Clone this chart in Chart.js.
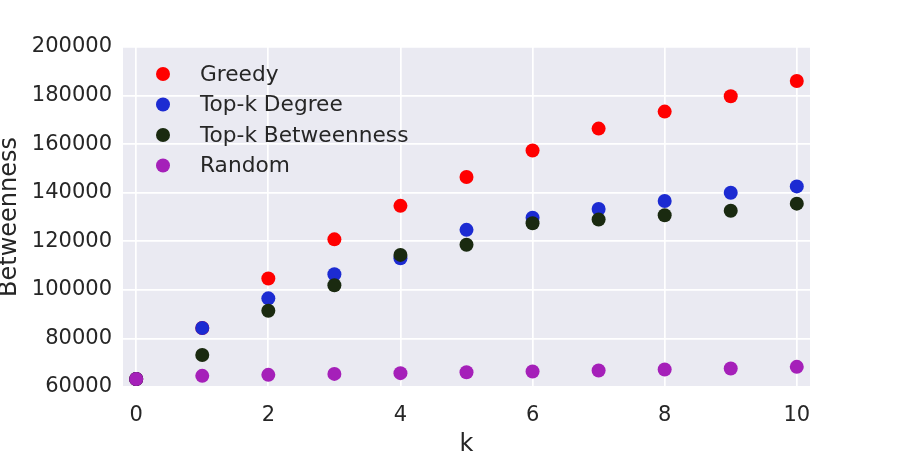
<!DOCTYPE html>
<html>
<head>
<meta charset="utf-8">
<script src="https://cdn.jsdelivr.net/npm/chart.js@4.4.1/dist/chart.umd.min.js"></script>
<style>
  html, body { margin: 0; padding: 0; background: #fff; }
  canvas { display: block; }
</style>
</head>
<body>
<canvas id="chart" width="900" height="469"></canvas>
<script>
// k values and betweenness readings per strategy
const kValues = [0, 1, 2, 3, 4, 5, 6, 7, 8, 9, 10];
const greedy = [63300, 84300, 104700, 120800, 134600, 146500, 157400, 166400, 173400, 179700, 186000];
const topDegree = [63300, 84300, 96500, 106400, 113000, 124700, 129700, 133300, 136600, 140000, 142600];
const topBetweenness = [63300, 73200, 91400, 101900, 114400, 118600, 127400, 129000, 130700, 132600, 135500];
const random = [63300, 64600, 65000, 65400, 65700, 66100, 66400, 66800, 67200, 67600, 68300];

const xTicks = [0, 2, 4, 6, 8, 10];
const yTicks = [60000, 80000, 100000, 120000, 140000, 160000, 180000, 200000];

const FONT = "'DejaVu Sans', sans-serif";
const TEXT = "#262626";

const toPoints = (ys) => ys.map((y, i) => ({ x: kValues[i], y: y }));

const plotBackground = {
  id: "plotBackground",
  beforeDraw(chart) {
    const { ctx, chartArea: a } = chart;
    ctx.save();
    ctx.fillStyle = "#EAEAF2";
    ctx.fillRect(a.left, a.top, a.right - a.left, a.bottom - a.top);
    ctx.restore();
  }
};

// matplotlib-style legend sitting inside the plot area
const insideLegend = {
  id: "insideLegend",
  afterDraw(chart) {
    const { ctx, chartArea: a } = chart;
    ctx.save();
    ctx.font = "21.7px " + FONT;
    ctx.textBaseline = "middle";
    ctx.textAlign = "left";
    chart.data.datasets.forEach((ds, i) => {
      const y = a.top + 27 + i * 30.5;
      ctx.beginPath();
      ctx.arc(a.left + 40, y, 7, 0, Math.PI * 2);
      ctx.fillStyle = ds.backgroundColor;
      ctx.fill();
      ctx.fillStyle = TEXT;
      ctx.fillText(ds.label, a.left + 77, y + 1);
    });
    ctx.restore();
  }
};

const series = [
  { label: "Greedy", data: greedy, color: "#ff0000", order: 4 },
  { label: "Top-k Degree", data: topDegree, color: "#1c2bd2", order: 3 },
  { label: "Top-k Betweenness", data: topBetweenness, color: "#1a2a10", order: 2 },
  { label: "Random", data: random, color: "#a520b9", order: 1 }
];

new Chart(document.getElementById("chart"), {
  type: "scatter",
  data: {
    datasets: series.map(s => ({
      label: s.label,
      data: toPoints(s.data),
      backgroundColor: s.color,
      borderColor: s.color,
      borderWidth: 0,
      pointRadius: 7,
      pointHoverRadius: 7,
      order: s.order
    }))
  },
  options: {
    responsive: false,
    animation: false,
    devicePixelRatio: 1,
    layout: { padding: { left: 0, right: 90, top: 47, bottom: 0 } },
    plugins: {
      legend: { display: false },
      tooltip: { enabled: false }
    },
    scales: {
      x: {
        type: "linear",
        min: -0.2,
        max: 10.2,
        afterBuildTicks: (scale) => { scale.ticks = xTicks.map(v => ({ value: v })); },
        afterFit: (scale) => { scale.height = 82; },
        border: { display: false },
        grid: { color: "#ffffff", lineWidth: 1.7, drawTicks: false },
        ticks: {
          color: TEXT,
          padding: 16,
          font: { family: FONT, size: 21, lineHeight: 1.2 }
        },
        title: {
          display: true,
          text: "k",
          color: TEXT,
          font: { family: FONT, size: 24, lineHeight: 1 },
          padding: { top: 0, bottom: 12.5 }
        }
      },
      y: {
        type: "linear",
        min: 60000,
        max: 200000,
        afterBuildTicks: (scale) => { scale.ticks = yTicks.map(v => ({ value: v })); },
        afterFit: (scale) => { scale.width = 123; },
        border: { display: false },
        grid: { color: "#ffffff", lineWidth: 1.7, drawTicks: false },
        ticks: {
          color: TEXT,
          padding: 11,
          font: { family: FONT, size: 21 },
          callback: (v) => String(v)
        },
        title: {
          display: true,
          text: "Betweenness",
          color: TEXT,
          font: { family: FONT, size: 24, lineHeight: 1 },
          padding: { top: -2.5, bottom: 0 }
        }
      }
    }
  },
  plugins: [plotBackground, insideLegend]
});
</script>
</body>
</html>
